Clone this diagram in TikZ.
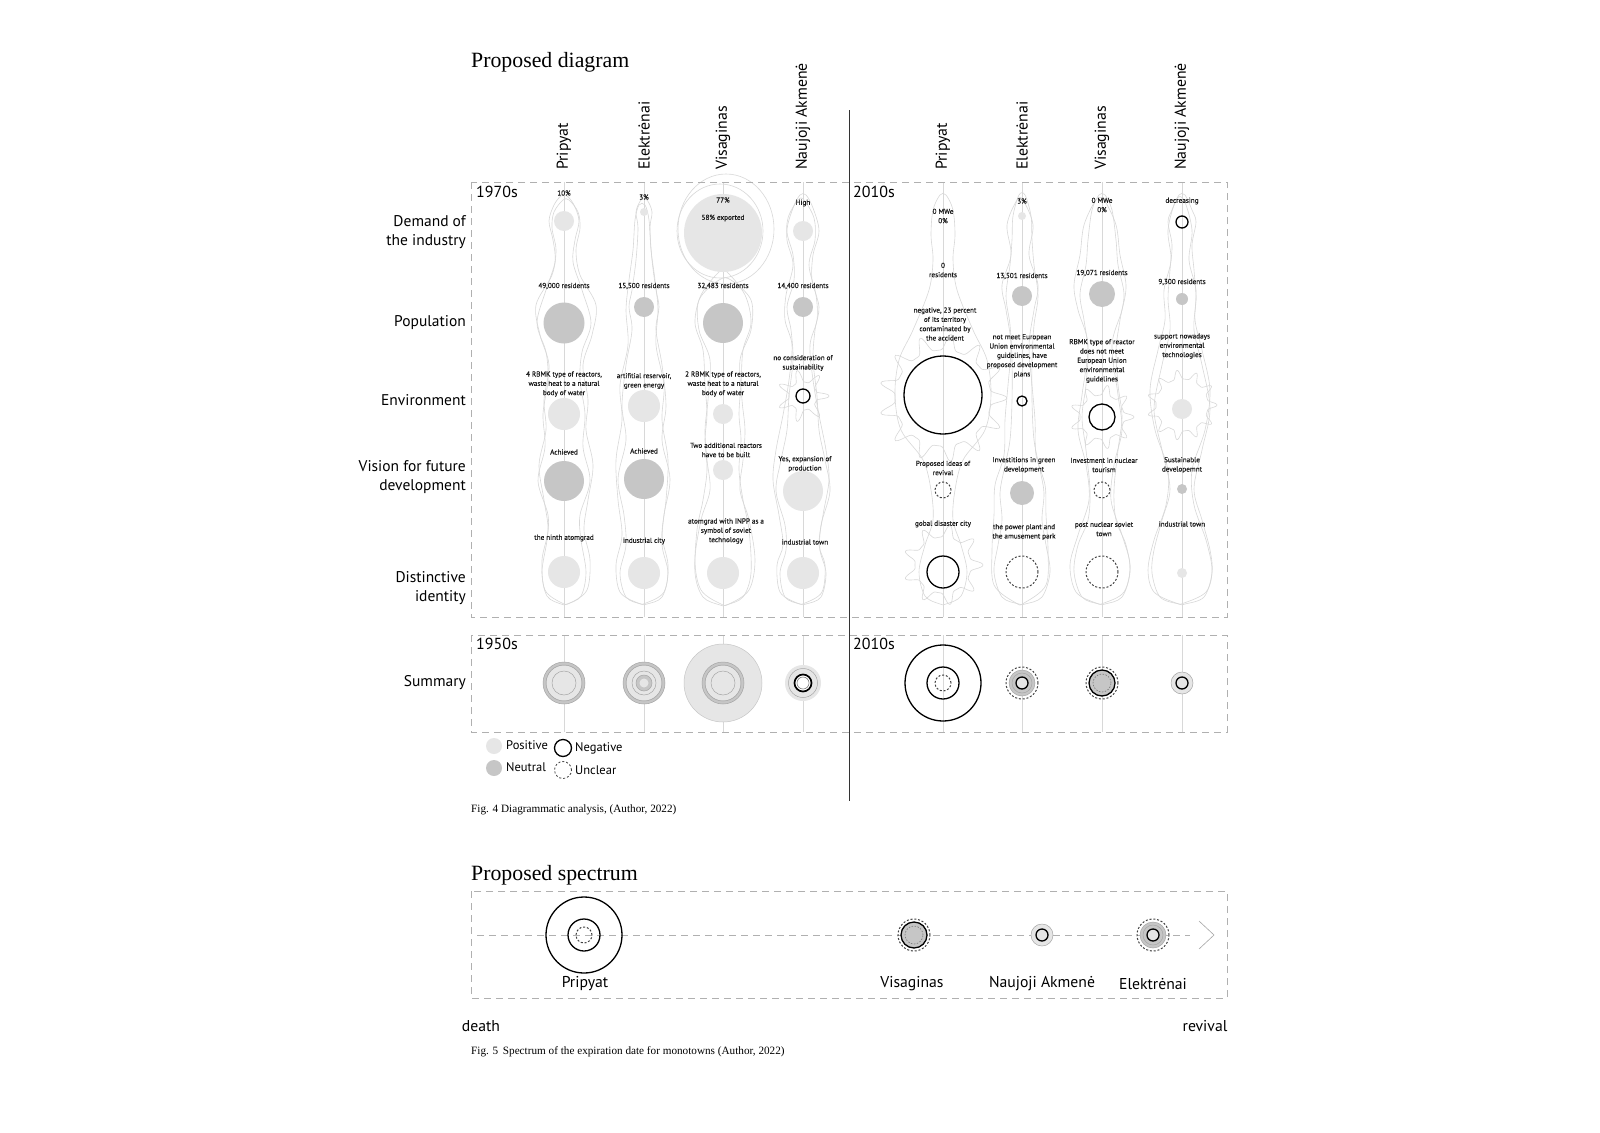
\documentclass[tikz,border=0pt]{standalone}
\usepackage{fontspec}
\setmainfont{Liberation Serif}
\newfontfamily\labfont{PT Sans}
\newfontfamily\notefont{PT Sans}[FakeBold=0.3]
\definecolor{posc}{HTML}{E6E6E6}
\definecolor{neuc}{HTML}{C6C6C6}
\definecolor{blobc}{HTML}{D8D8D8}
\definecolor{boxc}{HTML}{B0B0B0}
\newcommand\cpos[3]{\fill[posc] (#1,#2) circle[radius=#3pt];}
\newcommand\cneu[3]{\fill[neuc] (#1,#2) circle[radius=#3pt];}
\newcommand\cneg[3]{\draw[black, line width=1.3pt] (#1,#2) circle[radius=#3pt];}
\newcommand\cunc[3]{\draw[black!75, line width=1pt, dash pattern=on 2pt off 1.8pt] (#1,#2) circle[radius=#3pt];}
\def\drawblob{\draw[blobline] plot[smooth cycle, tension=0.55] coordinates}
\newcommand\blob[2]{%
  \gdef\blobpts{}%
  \foreach \yy/\ww in {#2}{\xdef\blobpts{(#1-\ww,\yy)\blobpts(#1+\ww,\yy)}}%
  \expandafter\drawblob\expandafter{\blobpts};}
\newcommand\burst[5]{%
  \draw[blobline] plot[domain=0:360, samples=241] ({#1+(#3+#4*abs(cos(#5*\x/2))^6)*cos(\x)},{#2+(#3+#4*abs(cos(#5*\x/2))^6)*sin(\x)});}
% summary glyphs
\newcommand\gPripR[2]{\cneg{#1}{#2}{38}\cneg{#1}{#2}{16}\cunc{#1}{#2}{8}}
\newcommand\gElekR[2]{\fill[neuc] (#1,#2) circle[radius=13pt];
  \draw[gray!70, line width=0.5pt] (#1,#2) circle[radius=13pt] (#1,#2) circle[radius=10pt];
  \fill[posc] (#1,#2) circle[radius=6pt];
  \cneg{#1}{#2}{6}\cunc{#1}{#2}{16}}
\newcommand\gVisaR[2]{\fill[neuc] (#1,#2) circle[radius=13pt];
  \cneg{#1}{#2}{13}\draw[gray, line width=0.7pt, dash pattern=on 1.5pt off 1.5pt] (#1,#2) circle[radius=9pt];
  \cunc{#1}{#2}{16}}
\newcommand\gNaujR[2]{\fill[posc] (#1,#2) circle[radius=11pt];
  \draw[gray!70, line width=0.5pt] (#1,#2) circle[radius=11pt];
  \cneg{#1}{#2}{6}}
\begin{document}
\begin{tikzpicture}[x=1pt,y=-1pt,
  lab/.style={font=\labfont\fontsize{15.5}{19.5}\selectfont, inner sep=0pt},
  head/.style={font=\labfont\fontsize{15.8}{18}\selectfont, inner sep=0pt, anchor=west, rotate=90},
  rowlab/.style={lab, anchor=east, align=right},
  tnote/.style={font=\notefont\fontsize{7.2}{9.3}\selectfont, align=center, inner sep=0pt, text=black!90},
  era/.style={font=\labfont\fontsize{16}{18}\selectfont, inner sep=0pt, anchor=west},
  ttl/.style={font=\fontsize{21.8}{24}\selectfont, anchor=base west, inner sep=0pt},
  figcap/.style={font=\fontsize{11.2}{13}\selectfont, anchor=base west, inner sep=0pt},
  blobline/.style={draw=blobc, line width=0.6pt},
  colline/.style={draw=blobc, line width=0.5pt},
  dbox/.style={draw=boxc, line width=0.8pt, dash pattern=on 7pt off 5pt},
  slab/.style={font=\labfont\fontsize{15.7}{18}\selectfont, inner sep=0pt},
  leg/.style={font=\labfont\fontsize{12.5}{14}\selectfont, inner sep=0pt, anchor=west},
]
\useasboundingbox[fill=white] (0,0) rectangle (1600,1132);

% ---------- blobs ----------
\blob{564}{196/3, 205/10, 221/15, 240/11, 262/9, 290/18, 323/27, 352/18, 380/16, 414/21, 447/19, 481/26, 515/16, 540/17, 572/22, 596/17, 604/3}
\blob{566}{200/3, 212/12, 228/14, 250/10, 275/14, 305/30, 335/26, 365/17, 400/22, 430/20, 465/27, 500/22, 530/18, 560/24, 590/21, 603/4}
\blob{644}{200/3, 212/8, 228/6, 260/8, 290/12, 307/15, 330/12, 365/18, 406/22, 440/18, 479/26, 515/20, 545/18, 573/24, 597/18, 604/3}
\blob{642}{205/3, 220/7, 250/9, 280/13, 310/16, 345/14, 385/22, 420/20, 460/26, 500/24, 535/20, 565/26, 592/22, 603/4}
\draw[blobline] (726,229) ellipse[x radius=48pt, y radius=55pt];
\draw[blobline] (720,231) ellipse[x radius=43pt, y radius=47pt];
\blob{723}{272/4, 295/22, 323/28, 350/20, 385/18, 414/16, 440/18, 470/16, 500/20, 530/26, 573/28, 597/20, 605/3}
\blob{725}{280/6, 300/26, 330/26, 360/15, 400/17, 430/20, 460/18, 490/15, 520/24, 560/30, 590/24, 604/4}
\blob{803}{195/3, 208/10, 231/16, 255/10, 280/9, 307/16, 330/12, 360/10, 396/14, 430/16, 460/22, 491/27, 525/18, 550/17, 573/23, 597/18, 604/3}
\blob{801}{200/3, 218/13, 240/14, 265/8, 295/15, 320/16, 345/9, 380/12, 415/18, 450/25, 480/28, 515/22, 545/18, 565/24, 592/21, 603/4}
\burst{803}{396}{14}{12}{7}
\blob{943}{195/3, 210/10, 235/12, 260/10, 290/14, 330/30, 360/44, 395/48, 430/42, 460/20, 490/12, 520/10, 545/18, 572/24, 596/18, 604/3}
\burst{943}{398}{48}{16}{13}
\burst{943}{565}{28}{12}{9}
\blob{1022}{195/3, 216/9, 240/10, 265/12, 296/16, 325/12, 360/10, 401/10, 440/12, 470/18, 493/22, 520/20, 545/24, 572/28, 597/20, 604/3}
\blob{1020}{200/3, 225/13, 255/9, 285/18, 310/14, 345/9, 385/12, 420/15, 455/16, 485/25, 515/26, 550/28, 585/26, 603/4}
\blob{1102}{195/3, 210/10, 240/14, 265/16, 294/22, 320/18, 350/14, 385/16, 417/20, 450/16, 490/12, 520/14, 545/24, 572/28, 597/20, 604/3}
\blob{1100}{200/4, 225/16, 255/20, 285/26, 310/22, 345/12, 395/18, 430/22, 465/14, 500/11, 535/22, 565/30, 592/24, 603/4}
\burst{1102}{417}{22}{10}{9}
\blob{1182}{195/3, 210/10, 222/14, 245/10, 270/12, 299/14, 330/12, 365/20, 409/28, 450/20, 489/12, 520/20, 550/28, 573/30, 597/22, 604/3}
\blob{1180}{200/4, 230/12, 260/9, 290/16, 320/15, 350/22, 390/30, 430/25, 470/12, 505/14, 540/26, 570/32, 592/26, 603/4}
\burst{1182}{405}{26}{9}{11}

% ---------- column lines ----------
\foreach \cx in {564,644,723,803,943,1022,1102,1182}{
  \draw[colline] (\cx,182) -- (\cx,617);
  \draw[colline] (\cx,635) -- (\cx,732);
}

% ---------- circles 1970s ----------
\cpos{564}{221}{10} \cneu{564}{323}{20.5} \cpos{564}{414}{16} \cneu{564}{481}{20} \cpos{564}{572}{16}
\cpos{644}{212}{4} \cneu{644}{307}{10} \cpos{644}{406}{16} \cneu{644}{479}{20} \cpos{644}{573}{16}
\cpos{723}{233}{39} \cneu{723}{323}{20} \cpos{723}{414}{10} \cpos{723}{470}{10} \cpos{723}{573}{16}
\cpos{803}{231}{10} \cneu{803}{307}{10} \cneg{803}{396}{7} \cpos{803}{491}{20} \cpos{803}{573}{16}
% ---------- circles 2010s ----------
\cneg{943}{395}{39} \cunc{943}{490}{8} \cneg{943}{572}{16}
\cpos{1022}{216}{4} \cneu{1022}{296}{10} \cneg{1022}{401}{5} \cneu{1022}{493}{12} \cunc{1022}{572}{16}
\cneu{1102}{294}{13} \cneg{1102}{417}{13} \cunc{1102}{490}{8} \cunc{1102}{572}{16}
\cneg{1182}{222}{6} \cneu{1182}{299}{6} \cpos{1182}{409}{10} \cneu{1182}{489}{5} \cpos{1182}{573}{5}

% ---------- notes 1970s ----------
\node[tnote] (a1) at (564,193) {10\%};
\node[tnote] (a2) at (564,286) {49,000 residents};
\node[tnote] (a3) at (564,384) {4 RBMK type of reactors,\\waste heat to a natural\\body of water};
\node[tnote] (a4) at (564,452) {Achieved};
\node[tnote] (a5) at (564,538) {the ninth atomgrad};
\node[tnote] (b1) at (644,197) {3\%};
\node[tnote] (b2) at (644,286) {15,500 residents};
\node[tnote] (b3) at (644,381) {artifitial reservoir,\\green energy};
\node[tnote] (b4) at (644,451) {Achieved};
\node[tnote] (b5) at (644,541) {industrial city};
\node[tnote] (c1) at (723,200) {77\%};
\node[tnote] (c1b) at (723,218) {58\% exported};
\node[tnote] (c2) at (723,286) {32,483 residents};
\node[tnote] (c3) at (723,384) {2 RBMK type of reactors,\\waste heat to a natural\\body of water};
\node[tnote] (c4) at (726,450) {Two additional reactors\\have to be built};
\node[tnote] (c5) at (726,531) {atomgrad with INPP as a\\symbol of soviet\\technology};
\node[tnote] (d1) at (803,203) {High};
\node[tnote] (d2) at (803,286) {14,400 residents};
\node[tnote] (d3) at (803,363) {no consideration of\\sustainability};
\node[tnote] (d4) at (805,464) {Yes, expansion of\\production};
\node[tnote] (d5) at (805,542) {industrial town};
% ---------- notes 2010s ----------
\node[tnote] (e1) at (943,216) {0 MWe\\0\%};
\node[tnote] (e2) at (943,270) {0\\residents};
\node[tnote] (e3) at (945,324) {negative, 23 percent\\of its territory\\contaminated by\\the accident};
\node[tnote] (e4) at (943,468) {Proposed ideas of\\revival};
\node[tnote] (e5) at (943,524) {gobal disaster city};
\node[tnote] (f1) at (1022,201) {3\%};
\node[tnote] (f2) at (1022,276) {13,501 residents};
\node[tnote] (f3) at (1022,356) {not meet European\\Union environmental\\guidelines, have\\proposed development\\plans};
\node[tnote] (f4) at (1024,465) {Investitions in green\\development};
\node[tnote] (f5) at (1024,532) {the power plant and\\the amusement park};
\node[tnote] (g1) at (1102,205) {0 MWe\\0\%};
\node[tnote] (g2) at (1102,273) {19,071 residents};
\node[tnote] (g3) at (1102,361) {RBMK type of reactor\\does not meet\\European Union\\environmental\\guidelines};
\node[tnote] (g4) at (1104,465) {Investment in nuclear\\tourism};
\node[tnote] (g5) at (1104,529) {post nuclear soviet\\town};
\node[tnote] (h1) at (1182,201) {decreasing};
\node[tnote] (h2) at (1182,282) {9,300 residents};
\node[tnote] (h3) at (1182,346) {support nowadays\\environmental\\technologies};
\node[tnote] (h4) at (1182,465) {Sustainable\\developemnt};
\node[tnote] (h5) at (1182,524) {industrial town};

% ---------- summary row ----------
\fill[neuc] (564,683) circle[radius=21pt]; \fill[posc] (564,683) circle[radius=17.5pt];
\draw[gray!70, line width=0.5pt] (564,683) circle[radius=21pt] (564,683) circle[radius=18pt] (564,683) circle[radius=12pt];
\fill[neuc] (644,683) circle[radius=21pt]; \fill[posc] (644,683) circle[radius=17.5pt];
\fill[neuc] (644,683) circle[radius=8pt]; \fill[posc] (644,683) circle[radius=4.5pt];
\draw[gray!70, line width=0.5pt] (644,683) circle[radius=21pt] (644,683) circle[radius=18pt] (644,683) circle[radius=12pt] (644,683) circle[radius=8pt];
\fill[posc] (723,683) circle[radius=39pt]; \draw[gray!45, line width=0.5pt] (723,683) circle[radius=39pt];
\fill[neuc] (723,683) circle[radius=21pt]; \fill[posc] (723,683) circle[radius=17.5pt];
\draw[gray!70, line width=0.5pt] (723,683) circle[radius=21pt] (723,683) circle[radius=18pt] (723,683) circle[radius=12pt];
\fill[posc] (803,683) circle[radius=18pt];
\draw[gray!70, line width=0.5pt] (803,683) circle[radius=14.5pt];
\fill[white] (803,683) circle[radius=9pt];
\draw[black, line width=1.7pt] (803,683) circle[radius=8.5pt];
\draw[gray, line width=0.6pt] (803,683) circle[radius=6pt];
\gPripR{943}{683}
\gElekR{1022}{683}
\gVisaR{1102}{683}
\gNaujR{1182}{683}

% ---------- boxes and divider ----------
\draw[dbox] (471,182) rectangle (1227,617);
\draw[dbox] (471,635) rectangle (1227,732);
\draw[black!80, line width=0.7pt] (849,110) -- (849,801);

% ---------- headings ----------
\node[ttl] (title1) at (471,67) {Proposed diagram};
\foreach \cx/\t [count=\i] in {564/Pripyat, 644/Elektrėnai, 723/Visaginas, 803/Naujoji Akmenė, 943/Pripyat, 1022/Elektrėnai, 1102/Visaginas, 1182/Naujoji Akmenė}
  \node[head] (hd\i) at (\cx,170) {\t};
\node[rowlab] (r1) at (466,232) {Demand of\\the industry};
\node[rowlab] (r2) at (466,323) {Population};
\node[rowlab] (r3) at (466,400) {Environment};
\node[rowlab] (r4) at (466,477) {Vision for future\\development};
\node[rowlab] (r5) at (466,588) {Distinctive\\identity};
\node[rowlab] (r6) at (466,683) {Summary};
\node[era] (e70) at (476,192) {1970s};
\node[era] (e10a) at (853,192) {2010s};
\node[era] (e50) at (476,644) {1950s};
\node[era] (e10b) at (853,644) {2010s};

% ---------- legend ----------
\fill[posc] (494,746) circle[radius=8pt];
\node[leg] (lp) at (506,745) {Positive};
\cneg{563}{748}{8.5}
\node[leg] (ln) at (575,748) {Negative};
\fill[neuc] (494,768) circle[radius=8pt];
\node[leg] (lu) at (506,767) {Neutral};
\draw[black!75, line width=0.8pt, dash pattern=on 2pt off 2pt] (563,770) circle[radius=8.5pt];
\node[leg] (lc) at (575,770) {Unclear};
\node[figcap] (cap4) at (471,812) {Fig. 4 Diagrammatic analysis, (Author, 2022)};

% ---------- spectrum ----------
\node[ttl] (title2) at (471,880) {Proposed spectrum};
\draw[dbox] (471,891) rectangle (1227,998);
\coordinate (sp0) at (477,935);
\coordinate (sp1) at (1190,935);
\draw[dbox] (sp0) -- (sp1);
\coordinate (chA) at (1199,921);
\coordinate (chB) at (1214,935);
\coordinate (chC) at (1199,949);
\draw[gray!70, line width=0.6pt] (chA) -- (chB) -- (chC);
\gPripR{584}{935}
\gVisaR{914}{935}
\gNaujR{1042}{935}
\gElekR{1153}{935}
\node[slab] (sP) at (585,984) {Pripyat};
\node[slab] (sV) at (912,984) {Visaginas};
\node[slab] (sN) at (1042,984) {Naujoji Akmenė};
\node[slab] (sE) at (1153,984) {Elektrėnai};
\node[slab] (death) at (481,1026) {death};
\node[slab] (rev) at (1205,1026) {revival};
\node[figcap] (cap5) at (471,1054) {Fig. 5\,\ Spectrum of the expiration date for monotowns (Author, 2022)};
\end{tikzpicture}
\end{document}
